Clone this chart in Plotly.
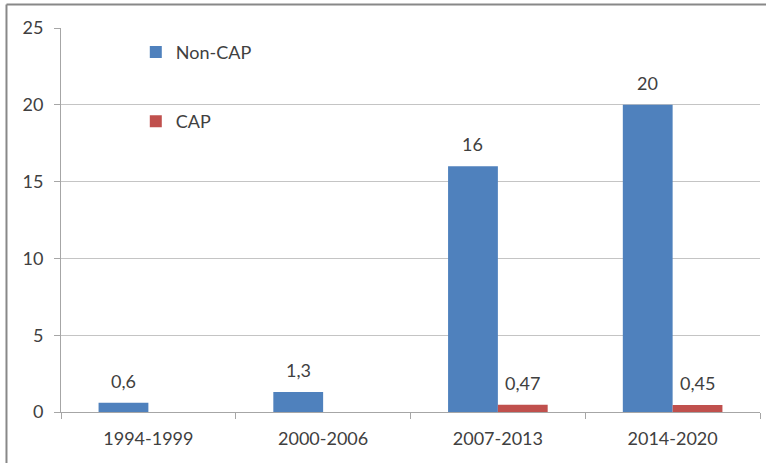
import plotly.graph_objects as go

categories = ["1994-1999", "2000-2006", "2007-2013", "2014-2020"]
non_cap = [0.6, 1.3, 16, 20]
cap = [None, None, 0.47, 0.45]
y_ticks = [0, 5, 10, 15, 20, 25]

def fmt(v):
    return ("%g" % v).replace(".", ",")

FONT = "Lato"
TXT = "#404040"
BAR_PX = 699 / 4 * (1 - 0.43) / 2  # pixel width of one bar

fig = go.Figure()
fig.add_trace(go.Bar(
    x=categories, y=non_cap, name="Non-CAP",
    marker=dict(color="#4F81BD", line=dict(width=0)),
    legendgroup="a",
))
fig.add_trace(go.Bar(
    x=categories, y=cap, name="CAP",
    marker=dict(color="#C0504D", line=dict(width=0)),
    legendgroup="b",
))

annotations = []
for series, shift in ((non_cap, -BAR_PX / 2), (cap, BAR_PX / 2)):
    for c, v in zip(categories, series):
        if v is None:
            continue
        annotations.append(dict(
            x=c, y=v, xref="x", yref="y", text=fmt(v), showarrow=False,
            xshift=shift, yshift=9, yanchor="bottom",
            font=dict(family=FONT, size=18, color=TXT),
        ))

fig.update_layout(
    width=766, height=463,
    margin=dict(l=61, r=6, t=28, b=51),
    paper_bgcolor="white", plot_bgcolor="white",
    barmode="group", bargap=0.43, bargroupgap=0,
    font=dict(family=FONT, size=18, color=TXT),
    legend=dict(x=0.107, y=0.985, xanchor="left", yanchor="top",
                bgcolor="rgba(0,0,0,0)", tracegroupgap=43,
                traceorder="grouped", font=dict(family=FONT, size=18, color=TXT),
                itemwidth=30),
    showlegend=True,
    annotations=annotations,
    xaxis=dict(showline=True, linecolor="#A6A6A6", linewidth=1,
               ticks="outside", tickson="boundaries", ticklen=6, tickcolor="#A6A6A6",
               showgrid=False, automargin=False, ticklabelstandoff=10,
               tickfont=dict(family=FONT, size=18, color=TXT)),
    yaxis=dict(range=[0, 25], tickvals=y_ticks, showline=True, linecolor="#A6A6A6", linewidth=1,
               ticks="outside", ticklen=6, tickcolor="#A6A6A6",
               showgrid=True, gridcolor="#C4C4C4", gridwidth=1, zeroline=False,
               ticklabelstandoff=7, automargin=False,
               tickfont=dict(family=FONT, size=18, color=TXT)),
    shapes=[
        dict(type="line", xref="paper", yref="paper", x0=-0.078, x1=1.01, y0=1.061, y1=1.061,
             line=dict(color="#888888", width=2)),
        dict(type="line", xref="paper", yref="paper", x0=-0.078, x1=-0.078, y0=1.061, y1=-0.2,
             line=dict(color="#888888", width=2)),
    ],
)

fig.write_html("out.html", config={"displayModeBar": False},
               post_script="document.body.style.margin='0';")
